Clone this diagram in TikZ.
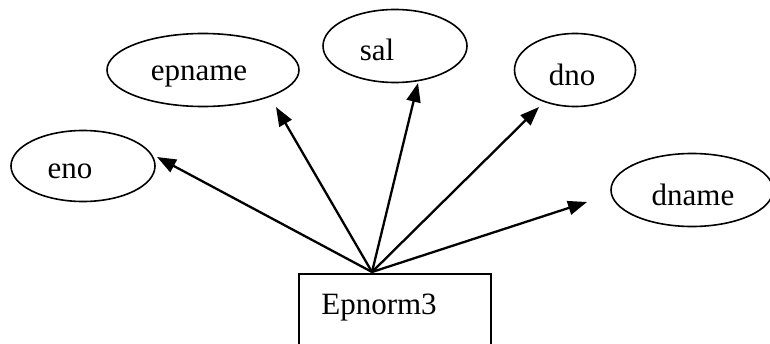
\documentclass[tikz,border=0pt]{standalone}
\usepackage{fontspec}
\setmainfont{Liberation Serif}
\usetikzlibrary{shapes.geometric,arrows.meta}

\begin{document}
\begin{tikzpicture}[x=1pt, y=1pt,
        attr/.style = {draw, ellipse, line width=1.6pt, inner sep=0pt},
        lbl/.style = {font=\fontsize{31}{36}\selectfont, inner sep=0pt},
        link/.style = {line width=2.3pt, -{Triangle[length=19pt, width=14pt]}}]
        \useasboundingbox (0,0) rectangle (770,343);
        \clip (0,0) rectangle (770,343);

        \node[attr, minimum width=144, minimum height=71] (eno) at (83,177) {};
        \node[attr, minimum width=192, minimum height=73] (epname) at (203,273) {};
        \node[attr, minimum width=144, minimum height=73] (sal) at (395,297) {};
        \node[attr, minimum width=121, minimum height=73] (dno) at (575,273) {};
        \node[attr, minimum width=162, minimum height=73] (dname) at (692,153) {};
        \node[draw, line width=1.5pt, minimum width=192, minimum height=100] (ep) at (395,19) {};

        \node[lbl] (enotxt) at (70,172) {eno};
        \node[lbl] (epnametxt) at (199,267) {epname};
        \node[lbl] (saltxt) at (377,293) {sal};
        \node[lbl] (dnotxt) at (572,268) {dno};
        \node[lbl] (dnametxt) at (693,148) {dname};
        \node[lbl] (eptxt) at (379,35) {Epnorm3};

        \coordinate (apex) at (372,71);
        \coordinate (tipeno) at (157,186);
        \coordinate (tipepname) at (276,236);
        \coordinate (tipsal) at (418,260);
        \coordinate (tipdno) at (539,236);
        \coordinate (tipdname) at (587,141);

        \draw[link] (apex) -- (tipeno);
        \draw[link] (apex) -- (tipepname);
        \draw[link] (apex) -- (tipsal);
        \draw[link] (apex) -- (tipdno);
        \draw[link] (apex) -- (tipdname);
    \end{tikzpicture}
\end{document}
